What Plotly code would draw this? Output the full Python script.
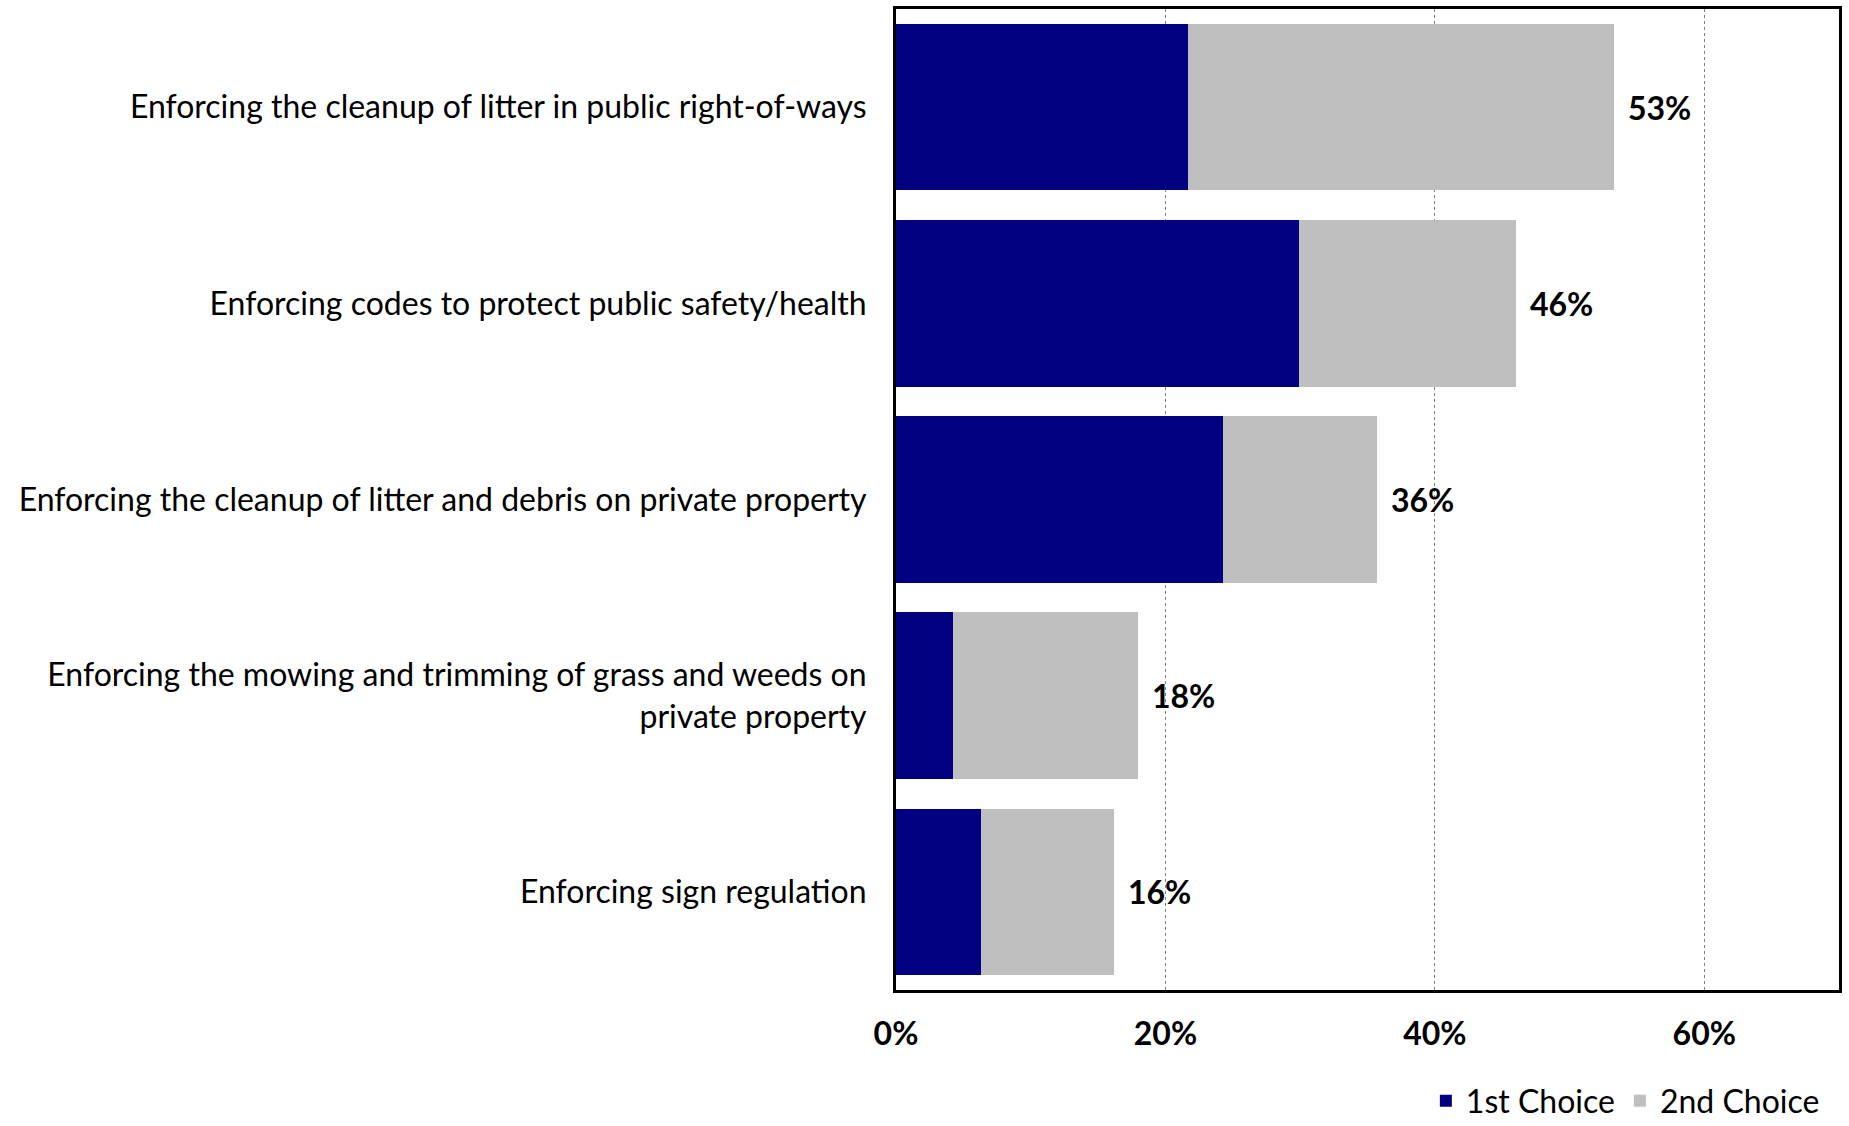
import plotly.graph_objects as go

# categorias (de arriba hacia abajo)
categorias = [
    "Enforcing the cleanup of litter in public right-of-ways",
    "Enforcing codes to protect public safety/health",
    "Enforcing the cleanup of litter and debris on private property",
    "Enforcing the mowing and trimming of grass and weeds on<br>private property",
    "Enforcing sign regulation",
]
primera_opcion = [21.7, 29.9, 24.3, 4.2, 6.3]
segunda_opcion = [31.6, 16.1, 11.4, 13.8, 9.9]
ticks_x = [0, 20, 40, 60]
etiquetas_x = ["0%", "20%", "40%", "60%"]

FUENTE = "Lato, 'Open Sans', sans-serif"
TAM = 32

totales = [a + b for a, b in zip(primera_opcion, segunda_opcion)]

fig = go.Figure()

fig.add_trace(go.Bar(
    y=categorias,
    x=primera_opcion,
    name="1st Choice",
    orientation="h",
    marker_color="#000080",
    marker_line_width=0,
))

fig.add_trace(go.Bar(
    y=categorias,
    x=segunda_opcion,
    name="2nd Choice",
    orientation="h",
    marker_color="#BFBFBF",
    marker_line_width=0,
))

# etiquetas con el total al final de cada barra
for cat, tot in zip(categorias, totales):
    fig.add_annotation(
        x=tot, y=cat,
        text="<b>%d%%</b>" % round(tot),
        showarrow=False,
        xanchor="left",
        xshift=12,
        font=dict(family=FUENTE, size=TAM, color="black"),
    )

fig.update_layout(
    width=1849,
    height=1126,
    barmode="stack",
    bargap=0.15,
    plot_bgcolor="white",
    paper_bgcolor="white",
    font=dict(family=FUENTE, size=TAM, color="black"),
    margin=dict(l=896, r=10, t=9, b=136, autoexpand=False),
    legend=dict(
        orientation="h",
        x=0.985, xanchor="right",
        y=-0.113, yanchor="middle",
        font=dict(size=TAM),
        traceorder="normal",
    ),
)

fig.update_xaxes(
    range=[0, 70],
    tickvals=ticks_x,
    ticktext=["<b>%s</b>" % t for t in etiquetas_x],
    showgrid=True,
    gridcolor="#808080",
    gridwidth=1,
    griddash="dot",
    showline=True,
    linecolor="black",
    linewidth=3,
    mirror=True,
    zeroline=False,
    automargin=False,
    ticklabelstandoff=14,
    tickfont=dict(size=TAM),
)

fig.update_yaxes(
    categoryorder="array",
    categoryarray=categorias[::-1],
    showline=True,
    linecolor="black",
    linewidth=3,
    mirror=True,
    showgrid=False,
    automargin=False,
    ticklabelstandoff=20,
    tickfont=dict(size=TAM),
)

# quitar el margen del body para que la figura ocupe toda la ventana
fig.write_html(
    "out.html",
    config={"displayModeBar": False},
    post_script="document.body.style.margin='0';document.body.style.overflow='hidden';",
)
